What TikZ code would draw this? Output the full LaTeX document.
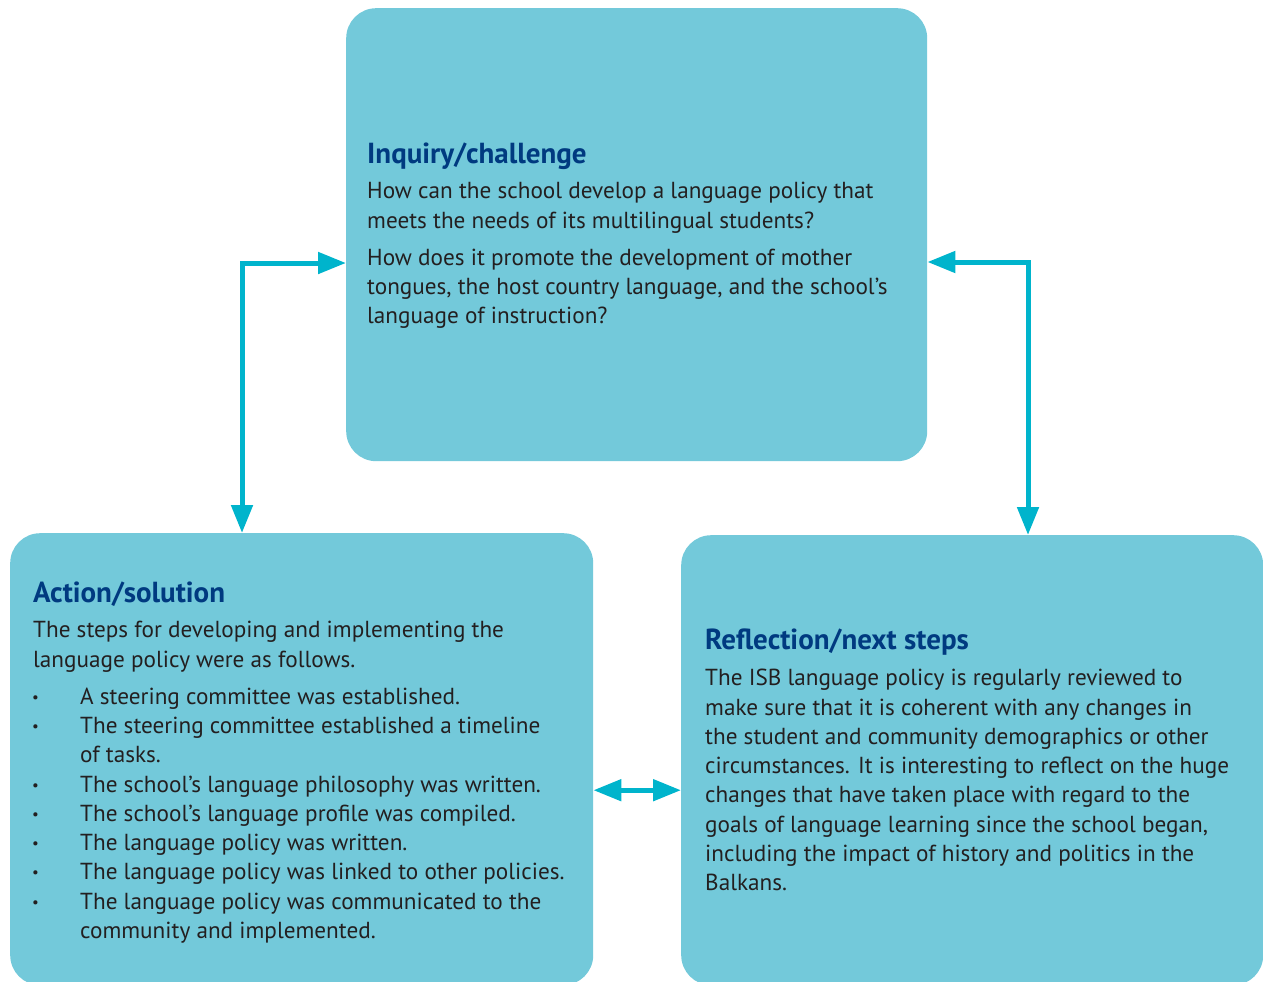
\documentclass[tikz,border=0pt]{standalone}
\usepackage{fontspec}
\setmainfont{PT Sans}
\usetikzlibrary{arrows.meta}
\definecolor{boxfill}{HTML}{73C9DA}
\definecolor{arrowc}{HTML}{00B4CC}
\definecolor{titlec}{HTML}{003A80}
\definecolor{textc}{HTML}{231F20}
\tikzset{
 panel/.style={fill=boxfill, rounded corners=30pt, anchor=north west, inner sep=0pt, draw=none},
 ttl/.style={anchor=base west, inner sep=0pt, text=titlec, font=\fontsize{29}{32}\selectfont\bfseries},
 body/.style={anchor=base west, inner sep=0pt, text=textc, font=\fontsize{23.2}{29}\selectfont},
 dot/.style={anchor=base west, inner sep=0pt, text=textc, font=\fontsize{15}{29}\selectfont},
 link/.style={draw=arrowc, line width=5pt, {Triangle[length=28pt,width=21pt,fill=arrowc]}-{Triangle[length=28pt,width=21pt,fill=arrowc]}},
}
\begin{document}
\begin{tikzpicture}[x=1pt,y=-1pt]
\useasboundingbox (0,0) rectangle (1263,982);
\node[panel, minimum width=581pt, minimum height=453pt] (top) at (346,8) {};
\node[panel, minimum width=583pt, minimum height=452pt] (left) at (10,533) {};
\node[panel, minimum width=582pt, minimum height=450pt] (right) at (681,535) {};

% top box
\node[ttl] (qt) at (367,163) {Inquiry/challenge};
\foreach \y/\t [count=\i] in {198/{How can the school develop a language policy that},
  228/{meets the needs of its multilingual students?},
  265/{How does it promote the development of mother},
  294/{tongues, the host country language, and the school’s},
  323/{language of instruction?}}
  \node[body] (q\i) at (367,\y) {\t};

% left box
\node[ttl] (at) at (33,602) {Action/solution};
\foreach \y/\t [count=\i] in {637/{The steps for developing and implementing the},
  667/{language policy were as follows.}}
  \node[body] (a\i) at (33,\y) {\t};
\foreach \y/\t [count=\i] in {704/{A steering committee was established.},
  733/{The steering committee established a timeline},
  762/{of tasks.},
  792/{The school’s language philosophy was written.},
  821/{The school’s language profile was compiled.},
  850/{The language policy was written.},
  879/{The language policy was linked to other policies.},
  909/{The language policy was communicated to the},
  938/{community and implemented.}}
  \node[body] (b\i) at (80,\y) {\t};
\foreach \y [count=\i] in {704,733,792,821,850,879,909}
  \node[dot] (d\i) at (32,\y-2) {•};

% right box
\node[ttl] (rt) at (705,649) {Reflection/next steps};
\foreach \y/\t [count=\i] in {685/{The ISB language policy is regularly reviewed to},
  715/{make sure that it is coherent with any changes in},
  744/{the student and community demographics or other},
  773/{circumstances. It is interesting to reflect on the huge},
  802/{changes that have taken place with regard to the},
  832/{goals of language learning since the school began,},
  861/{including the impact of history and politics in the},
  890/{Balkans.}}
  \node[body] (r\i) at (705,\y) {\t};

% connectors
\draw[link] ([xshift=232pt]left.north west) |- ([yshift=-255pt]top.north west);
\draw[link] ([yshift=-254pt]top.north east) -| ([xshift=347pt]right.north west);
\draw[link] ([yshift=-31pt]left.east) -- ([yshift=-31pt]left.east -| right.west);
\end{tikzpicture}
\end{document}
